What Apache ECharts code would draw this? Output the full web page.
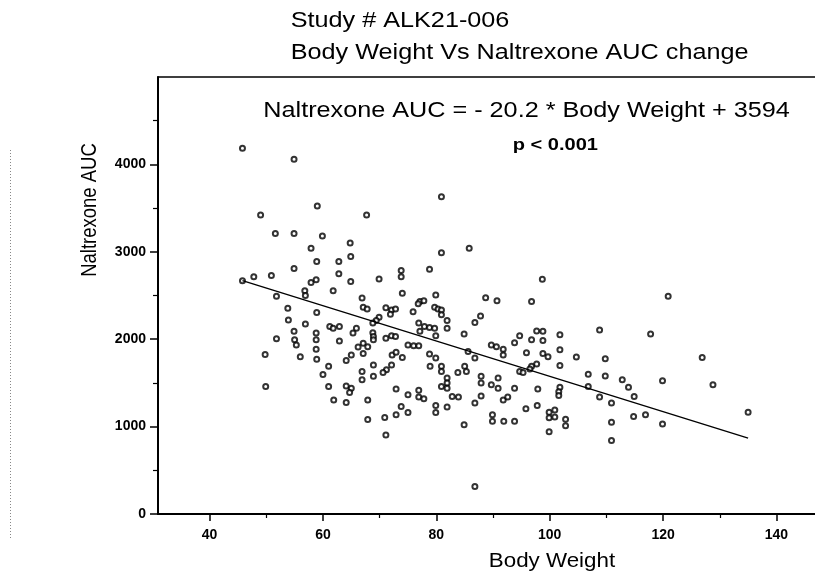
<!DOCTYPE html>
<html>
<head>
<meta charset="utf-8">
<script src="https://cdn.jsdelivr.net/npm/echarts@6/dist/echarts.min.js"></script>
<style>
html,body{margin:0;padding:0;background:#fff;}
#chart{width:815px;height:575px;}
</style>
</head>
<body>
<div id="chart"></div>
<script>
// ---- data ----
const bodyWeight = [
45.8,54.9,59.0,49.0,67.7,51.6,54.9,59.9,80.9,64.8,57.9,64.9,58.9,62.8,54.9,62.8,47.8,50.9,45.8,57.9,
58.8,64.9,61.8,56.8,56.9,51.8,66.9,67.1,67.8,53.8,58.9,53.9,56.9,61.2,61.8,62.9,65.9,65.3,54.9,58.8,
58.8,51.8,55.0,55.3,62.9,67.1,67.9,66.2,58.8,67.1,65.0,64.1,49.8,56.0,58.9,61.0,60.0,66.9,66.9,49.9,
61.0,64.1,65.0,64.7,61.9,64.1,67.9,67.9,85.8,80.9,78.8,73.8,73.8,69.9,98.7,74.0,79.9,77.1,77.8,76.8,
88.7,90.7,96.8,71.1,72.1,72.8,71.9,75.9,79.7,80.3,80.9,80.9,69.9,69.4,87.8,86.8,81.9,81.9,68.8,76.9,
77.9,78.8,79.7,77.1,79.9,84.9,97.7,98.8,101.8,94.7,93.8,96.8,98.8,68.8,68.9,68.9,71.1,72.1,72.8,75.0,
76.0,76.9,89.7,90.6,91.8,91.8,101.8,98.8,99.7,72.2,74.0,72.9,78.8,79.9,85.6,86.8,95.9,104.7,97.7,96.8,
101.8,68.9,78.9,80.9,80.9,72.1,71.2,70.6,68.9,85.0,85.3,83.8,94.7,95.3,96.5,81.9,81.9,87.9,87.9,90.9,
72.9,76.9,76.9,80.9,81.9,89.7,90.9,93.8,97.9,101.8,75.0,77.8,82.8,83.9,87.9,86.8,91.8,92.6,101.6,101.6,
73.8,75.0,79.9,79.9,81.9,95.8,97.8,99.9,100.9,99.9,100.9,102.8,102.8,70.9,72.9,84.9,89.9,89.9,91.9,93.8,
99.9,71.1,86.8,120.9,108.8,117.8,109.8,126.9,106.8,109.8,112.8,113.9,119.9,128.8,106.8,114.9,108.8,110.9,114.8,116.9,
119.9,110.9,110.9,135.0
];
const naltrexoneAUC = [
4185,4060,3525,3420,3420,3210,3210,3180,3630,3100,3040,2945,2890,2890,2810,2750,2715,2730,2670,2650,
2680,2660,2555,2555,2500,2490,2470,2365,2345,2355,2305,2220,2175,2145,2125,2145,2125,2070,2090,2070,
1995,2005,1995,1935,1980,1955,1915,1910,1885,1835,1820,1755,1825,1800,1770,1690,1595,1630,1535,1460,
1460,1465,1440,1390,1305,1275,1305,1080,3040,2990,2800,2785,2715,2690,2685,2525,2505,2430,2440,2405,
2475,2440,2430,2360,2335,2345,2285,2315,2365,2345,2335,2280,2250,2215,2265,2190,2215,2125,2185,2185,
2145,2135,2125,2090,2040,2060,2095,2090,2050,2040,1960,1995,1985,2075,2030,1995,2010,2040,2030,1935,
1925,1925,1935,1915,1885,1820,1880,1835,1800,1820,1790,1850,1830,1785,1860,1785,1845,1795,1715,1690,
1700,1705,1690,1690,1630,1705,1650,1620,1575,1690,1630,1620,1630,1620,1660,1555,1500,1575,1500,1555,
1430,1415,1340,1460,1440,1480,1440,1440,1430,1450,1365,1320,1345,1338,1350,1270,1305,1338,1400,1355,
1230,1160,1240,1160,1225,1205,1240,1165,1190,1100,1110,1085,1010,1105,1135,1020,1135,1060,1060,1060,
940,905,315,2490,2105,2060,1775,1790,1600,1580,1535,1450,1525,1480,1460,1345,1340,1270,1115,1135,
1030,1050,840,1165
];
const fitLineX = [45.8, 135.0];
const fitLineY = [2670, 869];
const xTickValues = [40, 60, 80, 100, 120, 140];
const xMinorTickValues = [50, 70, 90, 110, 130];
const yTickValues = [0, 1000, 2000, 3000, 4000];
const yMinorTickValues = [500, 1500, 2500, 3500, 4500];
const titleLine1 = 'Study # ALK21-006';
const titleLine2 = 'Body Weight Vs Naltrexone AUC change';
const equationText = 'Naltrexone AUC = - 20.2 * Body Weight + 3594';
const pValueText = 'p < 0.001';
const xAxisName = 'Body Weight';
const yAxisName = 'Naltrexone AUC';

// ---- chart ----
const FONT = '"Liberation Sans", Arial, sans-serif';
const STRETCH = 1.146;
const chart = echarts.init(document.getElementById('chart'), null, {renderer: 'canvas'});

const points = bodyWeight.map((x, i) => [x, naltrexoneAUC[i]]);
const fitLine = fitLineX.map((x, i) => [x, fitLineY[i]]);

const xRange = {min: 30.9, max: 146.8};
const yRange = {min: 0, max: 5000};
const plain = v => String(v);

function txt(text, x, y, size, weight, opts) {
  return Object.assign({
    type: 'text', x: x, y: y, scaleX: STRETCH, silent: true,
    style: {text: text, x: 0, y: 0, fill: '#000',
      font: (weight || 'normal') + ' ' + size + 'px ' + FONT,
      align: 'left', verticalAlign: 'middle'}
  }, opts || {});
}

const option = {
  backgroundColor: '#fff',
  animation: false,
  grid: {left: 158, right: 0, top: 77, bottom: 61, containLabel: false},
  xAxis: [
    {type: 'value', position: 'bottom', min: xRange.min, max: xRange.max,
      axisLine: {show: true, lineStyle: {color: '#000', width: 2}},
      axisTick: {show: true, length: 7, lineStyle: {color: '#000', width: 1.5}, customValues: xTickValues},
      axisLabel: {show: true, customValues: xTickValues, formatter: plain, margin: 14, color: '#000',
        fontFamily: FONT, fontSize: 14, fontWeight: 'bold'},
      splitLine: {show: false}},
    {type: 'value', position: 'bottom', min: xRange.min, max: xRange.max,
      axisLine: {show: false},
      axisTick: {show: true, length: 4, lineStyle: {color: '#000', width: 1.2}, customValues: xMinorTickValues},
      axisLabel: {show: false}, splitLine: {show: false}},
    {type: 'value', position: 'top', min: xRange.min, max: xRange.max,
      axisLine: {show: true, lineStyle: {color: '#000', width: 1.5}},
      axisTick: {show: false}, axisLabel: {show: false}, splitLine: {show: false}}
  ],
  yAxis: [
    {type: 'value', position: 'left', min: yRange.min, max: yRange.max,
      axisLine: {show: true, lineStyle: {color: '#000', width: 2}},
      axisTick: {show: true, length: 8, lineStyle: {color: '#000', width: 1.5}, customValues: yTickValues},
      axisLabel: {show: true, customValues: yTickValues, formatter: plain, margin: 12, color: '#000',
        fontFamily: FONT, fontSize: 14, fontWeight: 'bold'},
      splitLine: {show: false}},
    {type: 'value', position: 'left', min: yRange.min, max: yRange.max,
      axisLine: {show: false},
      axisTick: {show: true, length: 5, lineStyle: {color: '#000', width: 1.2}, customValues: yMinorTickValues},
      axisLabel: {show: false}, splitLine: {show: false}}
  ],
  series: [
    {type: 'scatter', xAxisIndex: 0, yAxisIndex: 0, data: points,
      symbol: 'emptyCircle', symbolSize: 5,
      itemStyle: {color: '#000', borderColor: '#000', borderWidth: 0.8}},
    {type: 'line', xAxisIndex: 0, yAxisIndex: 0, data: fitLine,
      showSymbol: false, symbol: 'none',
      lineStyle: {color: '#000', width: 1.3}}
  ],
  graphic: [
    txt(titleLine1, 290.7, 20.5, 22),
    txt(titleLine2, 290.7, 52.5, 22),
    txt(equationText, 263.3, 111.3, 22),
    txt(pValueText, 512.7, 145.8, 17, 'bold', {scaleX: 1.18}),
    txt(xAxisName, 552, 562, 19.5, 'normal', {style: {text: xAxisName, x: 0, y: 0, fill: '#000',
      font: 'normal 19.5px ' + FONT, align: 'center', verticalAlign: 'middle'}}),
    {type: 'text', x: 90, y: 210, rotation: Math.PI / 2, scaleY: STRETCH, silent: true,
      style: {text: yAxisName, x: 0, y: 0, fill: '#000', font: 'normal 18.5px ' + FONT,
        align: 'center', verticalAlign: 'middle'}},
    {type: 'line', silent: true,
      shape: {x1: 10.5, y1: 150, x2: 10.5, y2: 540},
      style: {stroke: '#888', lineWidth: 1, lineDash: [1, 2]}}
  ]
};
chart.setOption(option);
</script>
</body>
</html>
